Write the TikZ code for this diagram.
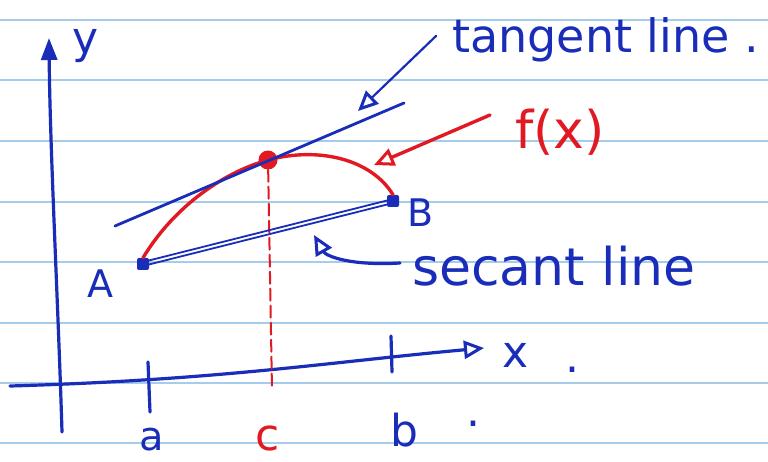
\documentclass[tikz,border=0pt]{standalone}
\usepackage{fontspec}
\setmainfont{DejaVu Sans}
\usetikzlibrary{arrows.meta}
\definecolor{ink}{RGB}{25,45,185}
\definecolor{redink}{RGB}{225,25,35}
\definecolor{rule}{RGB}{165,205,235}
\tikzset{
  ruleline/.style={draw=rule, line width=1.4pt},
  pen/.style={draw=ink, line width=3.2pt, line cap=round, line join=round},
  redpen/.style={draw=redink, line width=3.4pt, line cap=round, line join=round},
  openhead/.style={-{Triangle[open, length=20pt, width=18pt, line width=3pt]}},
  lbl/.style={text=ink, inner sep=0pt, font=\fontsize{44}{50}\selectfont},
  redlbl/.style={text=redink, inner sep=0pt, font=\fontsize{44}{50}\selectfont},
  dotmark/.style={rectangle, rounded corners=2pt, fill=ink, inner sep=0pt, minimum size=12pt},
}
\begin{document}
\begin{tikzpicture}[x=1pt,y=-1pt]
\useasboundingbox (0,0) rectangle (768,462);
\fill[white] (0,0) rectangle (768,462);
\foreach \yy in {20,80,141,202,262,323,383,443} \draw[ruleline] (0,\yy) -- (768,\yy);

% axes
\coordinate (yo) at (62,432);
\coordinate (yt) at (49,38);
\draw[pen, -{Triangle[length=22pt, width=16pt]}] (yo) .. controls (58,300) and (50,150) .. (yt);
\coordinate (xo) at (10,386);
\coordinate (xt) at (484,348);
\draw[pen, openhead] (xo) .. controls (220,380) and (330,362) .. (xt);
\node[lbl] (ylab) at (86,46) {y};
\node[lbl] (xlab) at (516,355) {x};
\node[lbl] (xdot) at (572,370) {.};

% ticks
\coordinate (ta1) at (148,362); \coordinate (ta2) at (150,412);
\coordinate (tb1) at (391,336); \coordinate (tb2) at (392,372);
\draw[pen] (ta1) -- (ta2);
\draw[pen] (tb1) -- (tb2);
\node[lbl, font=\fontsize{40}{46}\selectfont] (alab) at (152,440) {a};
\node[redlbl] (clab) at (268,438) {c};
\node[lbl] (blab) at (404,430) {b};
\node[lbl] (bdot) at (473,424) {.};

% points
\node[dotmark] (A) at (143,264) {};
\node[dotmark] (B) at (393,201) {};
\node[lbl, font=\fontsize{38}{44}\selectfont] (Alab) at (100,284) {A};
\node[lbl, font=\fontsize{38}{44}\selectfont] (Blab) at (421,213) {B};
\node[circle, fill=redink, inner sep=0pt, minimum size=19pt] (C) at (268,160) {};
\coordinate (cbot) at (272,390);

% dashed vertical
\draw[redpen, line width=2pt, dash pattern=on 12pt off 5pt] (C) -- (cbot);

% curve f(x)
\draw[redpen] (A.north) .. controls (175,205) and (225,172) .. (C.center)
  .. controls (320,146) and (372,160) .. (B.north);

% tangent
\coordinate (T1) at (115,226);
\coordinate (T2) at (404,103);
\draw[pen, line width=2.8pt] (T1) -- (T2);

% secant (double stroke)
\draw[draw=ink, line width=1.8pt] ([yshift=-2pt]A.center) -- ([yshift=-2pt]B.center);
\draw[draw=ink, line width=1.8pt] ([yshift=2pt]A.center) -- ([yshift=2pt]B.center);

% labels and pointers
\node[lbl, font=\fontsize{46}{52}\selectfont, anchor=west] (tanlab) at (452,40) {tangent line .};
\coordinate (tanfrom) at (436,36);
\coordinate (tanto) at (358,111);
\draw[pen, line width=2.2pt, openhead] (tanfrom) -- (tanto);

\node[redlbl, font=\fontsize{52}{60}\selectfont] (flab) at (560,132) {f(x)};
\coordinate (ffrom) at (490,115);
\coordinate (fto) at (374,165);
\draw[redpen, -{Triangle[open, length=20pt, width=18pt, line width=3pt]}] (ffrom) -- (fto);

\node[lbl, font=\fontsize{52}{60}\selectfont, anchor=west] (seclab) at (412,266) {secant line};
\coordinate (sfrom) at (400,263);
\coordinate (sto) at (314,235);
\draw[pen, openhead] (sfrom) .. controls (350,266) and (326,256) .. (sto);
\end{tikzpicture}
\end{document}
